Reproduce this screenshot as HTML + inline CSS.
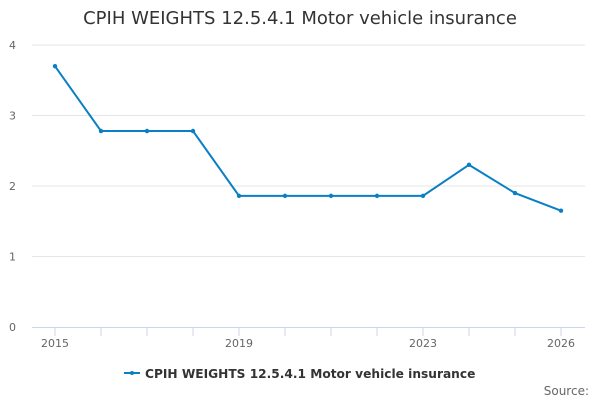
<!DOCTYPE html>
<html><head><meta charset="utf-8"><style>
body{margin:0;background:#fff;font-family:"DejaVu Sans","Liberation Sans",sans-serif;}
svg text{font-family:"DejaVu Sans","Liberation Sans",sans-serif;}
</style></head><body>
<svg id="chart" width="600" height="400" xmlns="http://www.w3.org/2000/svg">
<rect width="600" height="400" fill="#fff"/>
<text x="300" y="24" text-anchor="middle" font-size="18" fill="#333">CPIH WEIGHTS 12.5.4.1 Motor vehicle insurance</text>
<g id="grid"></g><g id="axes"></g><g id="series"></g>
<g>
<line x1="124" y1="373" x2="140" y2="373" stroke="#0a7fc5" stroke-width="2"/>
<circle cx="132" cy="373" r="2" fill="#0a7fc5"/>
<text x="145" y="378" font-size="12.2" font-weight="bold" fill="#333">CPIH WEIGHTS 12.5.4.1 Motor vehicle insurance</text>
</g>
<text x="589" y="395" text-anchor="end" font-size="12" fill="#666">Source:</text>
</svg>
<script>
const years=[2015,2016,2017,2018,2019,2020,2021,2022,2023,2024,2025,2026];
const values=[3.7,2.78,2.78,2.78,1.86,1.86,1.86,1.86,1.86,2.3,1.9,1.65];
const yTicks=[0,1,2,3,4];
const xLabels=[2015,2019,2023,2026];
const NS="http://www.w3.org/2000/svg";
const x=v=>55+(v-2015)*46;
const y=v=>327-v*70.5;
function mk(t,a,p){const e=document.createElementNS(NS,t);for(const k in a)e.setAttribute(k,a[k]);p.appendChild(e);return e;}
const g=document.getElementById('grid'),ax=document.getElementById('axes'),s=document.getElementById('series');
yTicks.forEach(t=>{
 if(t>0){const l=mk('line',{x1:32,x2:585,y1:y(t),y2:y(t),stroke:'#e6e6e6'},g);
 
 }
 const tx=mk('text',{x:16,y:y(t)+4,'text-anchor':'end','font-size':11,fill:'#666'},ax);tx.textContent=t;
 
 
});
const base=mk('line',{x1:32,x2:585,y1:327.5,y2:327.5,stroke:'#ccd6eb'},ax);


years.forEach(yr=>{const t=mk('line',{x1:x(yr),x2:x(yr),y1:327,y2:336,stroke:'#ccd6eb'},ax);
 
 });
xLabels.forEach(yr=>{const t=mk('text',{x:x(yr),y:347,'text-anchor':'middle','font-size':11,fill:'#666'},ax);t.textContent=yr;
 
 });
const p=mk('polyline',{points:years.map((yr,i)=>x(yr)+','+y(values[i])).join(' '),fill:'none',stroke:'#0a7fc5','stroke-width':2},s);


years.forEach((yr,i)=>{const c=mk('circle',{cx:x(yr),cy:y(values[i]),r:2.2,fill:'#0a7fc5'},s);
 
 });
</script>
</body></html>
